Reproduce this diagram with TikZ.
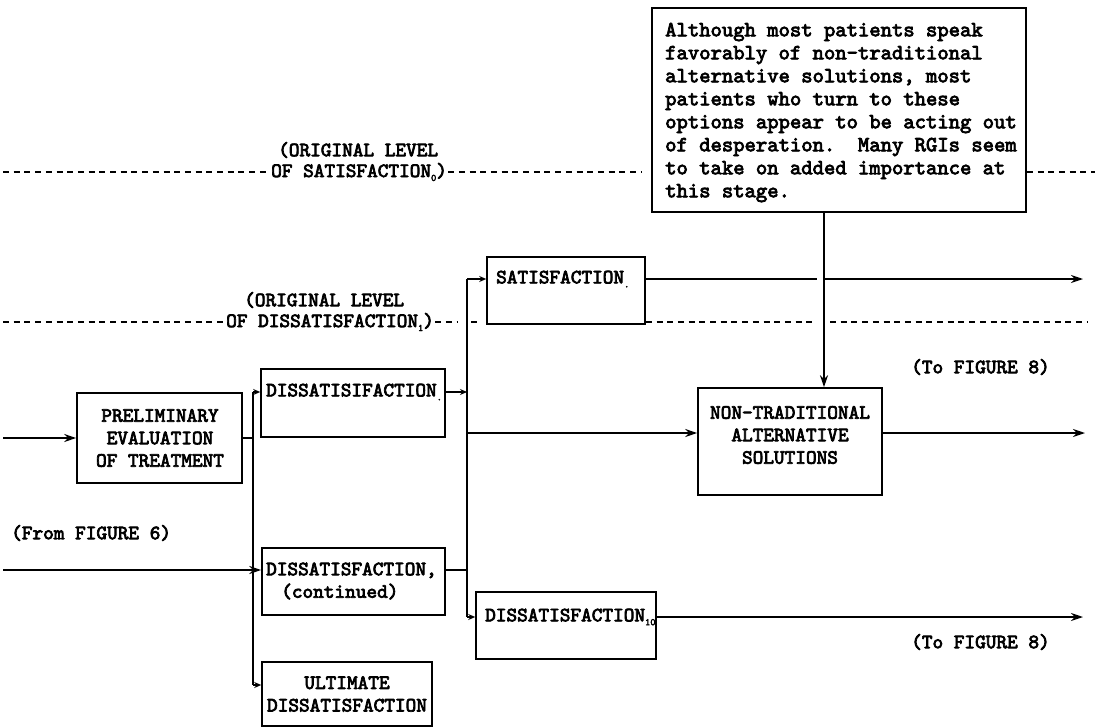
\documentclass[tikz,border=0pt]{standalone}
\usepackage{fontspec}
\usetikzlibrary{arrows.meta}
% heavy typewriter face
\newfontfamily\tw{lmmono10-regular}[Extension=.otf, FakeBold=3.5, AutoFakeBold=3.5]
% small lowered index after a typed word
\newcommand\lowsub[1]{\raisebox{-0.45ex}{\fontsize{10pt}{10pt}\selectfont #1}}
\begin{document}
\begin{tikzpicture}[x=1pt,y=-1pt,
  every node/.style={inner sep=1pt},
  type/.style={font=\tw\bfseries\fontsize{20.3pt}{22.5pt}\selectfont},
  notetype/.style={font=\tw\bfseries\fontsize{21.6pt}{23pt}\selectfont},
  boxd/.style={draw, line width=1.6pt, inner sep=0pt},
  line/.style={line width=1.6pt},
  arr/.style={line width=1.6pt, -{Stealth[length=12pt,width=8pt]}},
  tick/.style={line width=1.6pt, -{Stealth[length=7pt,width=6pt]}},
  level/.style={line width=1.7pt, dash pattern=on 6pt off 4.7pt},
]
\path[use as bounding box, fill=white] (0,0) rectangle (1095,728);

% ---------- boxes ----------
\node[boxd, minimum width=374pt, minimum height=204pt] (note) at (839,110) {};
\node[boxd, minimum width=158pt, minimum height=67pt]  (sat) at (566,290.5) {};
\node[boxd, minimum width=184pt, minimum height=68pt]  (d1) at (353,403) {};
\node[boxd, minimum width=165pt, minimum height=90pt]  (prelim) at (159.5,438) {};
\node[boxd, minimum width=184pt, minimum height=107pt] (nontrad) at (790,441.5) {};
\node[boxd, minimum width=183pt, minimum height=67pt]  (cont) at (353.5,581.5) {};
\node[boxd, minimum width=180pt, minimum height=67pt]  (d10) at (566,625.5) {};
\node[boxd, minimum width=170pt, minimum height=64pt]  (ult) at (347,694) {};

% ---------- box texts ----------
\node[notetype, align=left, anchor=west] (tnote) at (664,112.5)
  {Although most patients speak\\
   favorably of non-traditional\\
   alternative solutions, most\\
   patients who turn to these\\
   options appear to be acting out\\
   of desperation.\ \ Many RGIs seem\\
   to take on added importance at\\
   this stage.};
\node[type, anchor=west] (tsat) at (495,279) {SATISFACTION\lowsub{.}};
\node[type, anchor=west] (td1) at (265,392) {DISSATISIFACTION\lowsub{.}};
\node[type, align=center] (tprelim) at (160,438) {PRELIMINARY\\EVALUATION\\OF TREATMENT};
\node[type, align=center] (tnt) at (790,435) {NON-TRADITIONAL\\ALTERNATIVE\\SOLUTIONS};
\node[type, align=left, anchor=west] (tcont) at (265,581)
  {DISSATISFACTION,\\\hspace*{15pt}(continued)};
\node[type, anchor=west] (td10) at (484,617) {DISSATISFACTION\lowsub{10}};
\node[type, align=center] (tult) at (347,694) {ULTIMATE\\DISSATISFACTION};

% ---------- free labels ----------
\node[type, anchor=west] (lvl0) at (277,150) {(ORIGINAL LEVEL};
\node[type, anchor=west] (lvl0b) at (270,172) {OF SATISFACTION\lowsub{0})};
\node[type, anchor=west] (lvl1) at (243,300) {(ORIGINAL LEVEL};
\node[type, anchor=west] (lvl1b) at (225,322) {OF DISSATISFACTION\lowsub{1})};
\node[type, anchor=west] (from6) at (10,533) {(From FIGURE 6)};
\node[type, anchor=west] (to8a) at (910,367) {(To FIGURE 8)};
\node[type, anchor=west] (to8b) at (910,642) {(To FIGURE 8)};

% ---------- reference coordinates ----------
\coordinate (in1) at (3,438);
\coordinate (in2) at (3,570);
\coordinate (busTop) at (253,392);
\coordinate (busBot) at (253,685);
\coordinate (v2Top) at (467,279);
\coordinate (v2Bot) at (467,617);
\coordinate (ntIn) at (467,433);
\coordinate (dropx) at (824,0);
\coordinate (out1) at (1083,279);
\coordinate (gap1) at (817,279);
\coordinate (out2) at (1085,433);
\coordinate (out3) at (1083,617);
\coordinate (dl0) at (3,172);
\coordinate (de0) at (642,172);
\coordinate (dr0) at (1095,172);
\coordinate (dl1) at (3,322);
\coordinate (de1) at (457,322);
\coordinate (ds1) at (471,322);
\coordinate (dt1) at (479,322);
\coordinate (dg1) at (816,322);
\coordinate (dh1) at (830,322);
\coordinate (dr1) at (1088,322);

% ---------- level lines ----------
\draw[level] (dl0) -- (lvl0b.west);
\draw[level] (lvl0b.east) -- (de0);
\draw[level] (note.east |- dr0) -- (dr0);
\draw[level] (dl1) -- (lvl1b.west);
\draw[level] (lvl1b.east) -- (de1);
\draw[level] (ds1) -- (dt1);
\draw[level] (sat.east |- dr1) -- (dg1);
\draw[level] (dh1) -- (dr1);

% ---------- connectors ----------
\draw[arr] (in1) -- (in1 -| prelim.west);
\draw[line] (prelim.east |- in1) -- (in1 -| busTop);
\draw[line] (busTop) -- (busBot);
\draw[tick] (busTop) -- (busTop -| d1.west);
\draw[tick] (busBot) -- (busBot -| ult.west);
\draw[arr] (in2) -- (in2 -| cont.west);

\draw[line] (v2Top) -- (v2Bot);
\draw[tick] (v2Top) -- (v2Top -| sat.west);
\draw[tick] (v2Bot) -- (v2Bot -| d10.west);
\draw[tick] (busTop -| d1.east) -- (busTop -| v2Top);
\draw[line] (in2 -| cont.east) -- (in2 -| v2Top);
\draw[arr] (ntIn) -- (ntIn -| nontrad.west);

\draw[arr] (note.south -| dropx) -- (nontrad.north -| dropx);
\draw[line] (out1 -| sat.east) -- (gap1);
\draw[arr] (out1 -| dropx) -- (out1);
\draw[arr] (out2 -| nontrad.east) -- (out2);
\draw[arr] (out3 -| d10.east) -- (out3);
\end{tikzpicture}
\end{document}
